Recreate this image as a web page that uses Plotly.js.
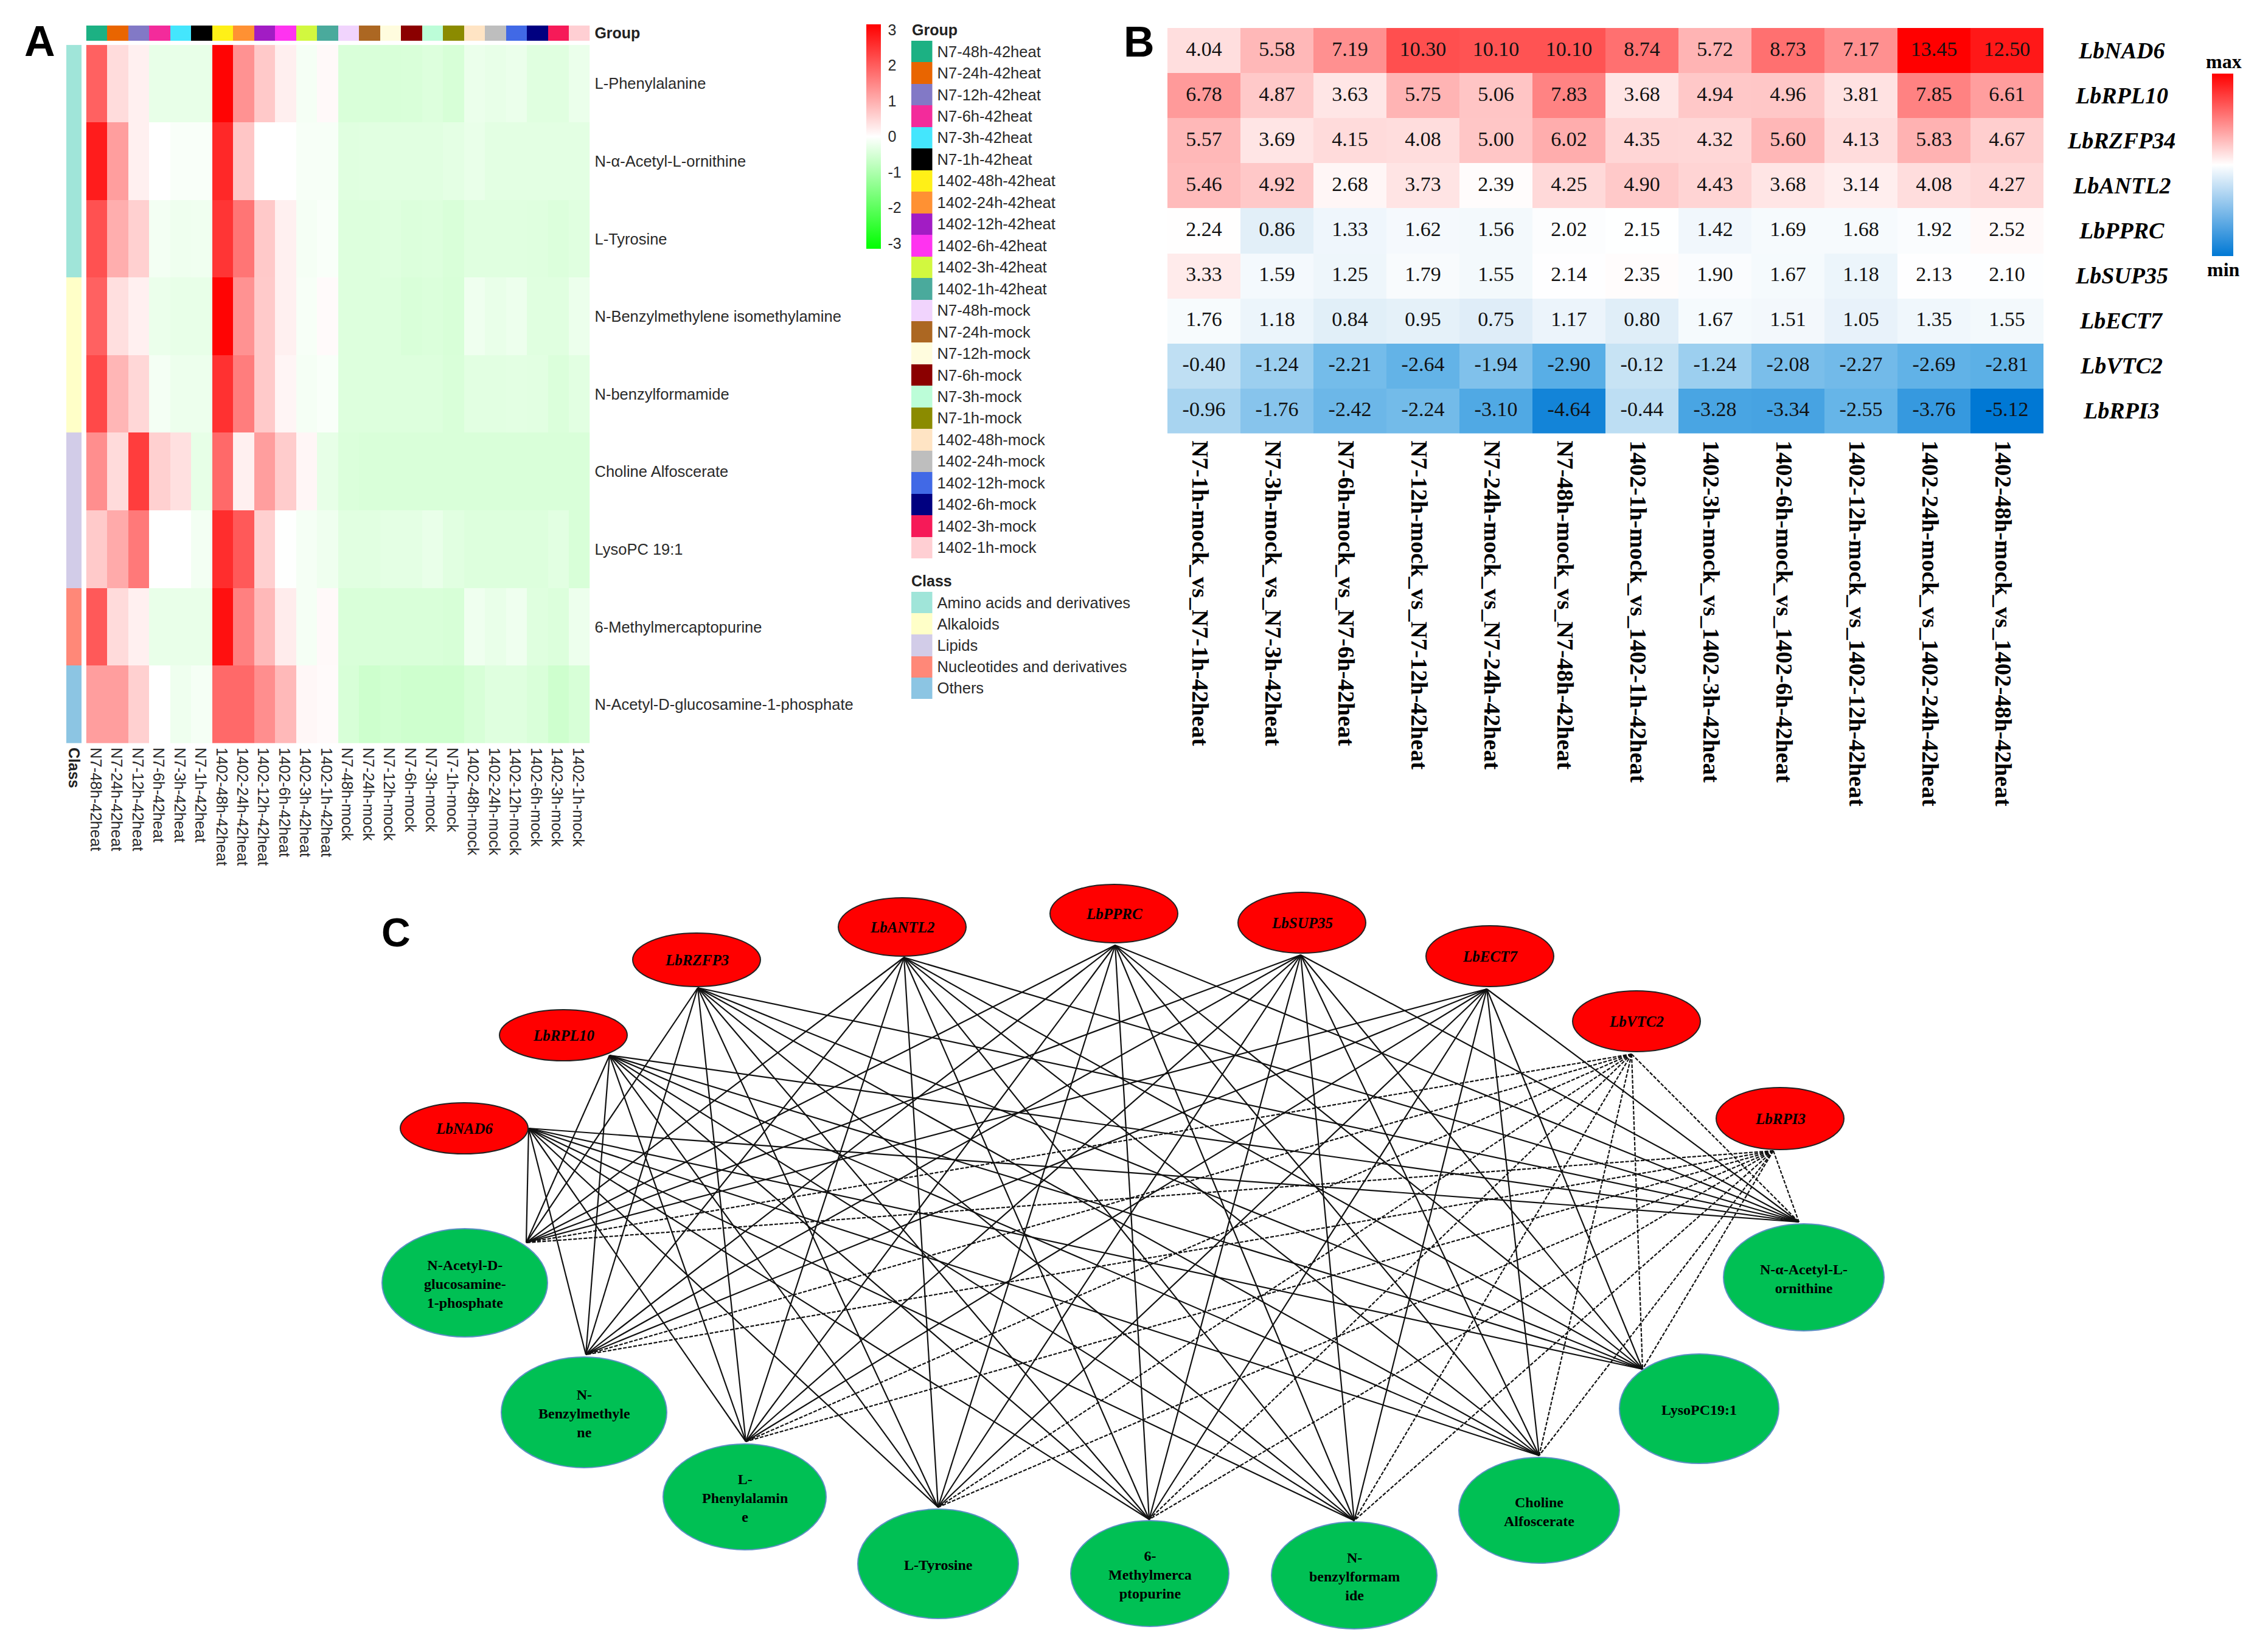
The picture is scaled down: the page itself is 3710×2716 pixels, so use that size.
<!DOCTYPE html>
<html><head><meta charset="utf-8">
<script src="https://cdn.plot.ly/plotly-3.0.1.min.js"></script>
<style>html,body{margin:0;padding:0;background:#fff}</style></head>
<body><div id="c" style="width:3710px;height:2716px"></div>
<script>
// ---------- Panel A data ----------
const sampleLabels = ["N7-48h-42heat","N7-24h-42heat","N7-12h-42heat","N7-6h-42heat","N7-3h-42heat","N7-1h-42heat",
 "1402-48h-42heat","1402-24h-42heat","1402-12h-42heat","1402-6h-42heat","1402-3h-42heat","1402-1h-42heat",
 "N7-48h-mock","N7-24h-mock","N7-12h-mock","N7-6h-mock","N7-3h-mock","N7-1h-mock",
 "1402-48h-mock","1402-24h-mock","1402-12h-mock","1402-6h-mock","1402-3h-mock","1402-1h-mock"];
const metaboliteLabels = ["L-Phenylalanine","N-α-Acetyl-L-ornithine","L-Tyrosine","N-Benzylmethylene isomethylamine",
 "N-benzylformamide","Choline Alfoscerate","LysoPC 19:1","6-Methylmercaptopurine","N-Acetyl-D-glucosamine-1-phosphate"];
const metaboliteValues = [
 [1.95,.43,.18,-.28,-.28,-.28, 3.1,1.35,.67,.2,-.12,.07, -.47,-.47,-.48,-.47,-.42,-.5, -.25,-.28,-.25,-.38,-.38,-.25],
 [2.8,1.2,.18,0,-.08,-.07, 2.65,.7,0,0,-.1,-.1, -.38,-.37,-.37,-.37,-.37,-.33, -.27,-.35,-.35,-.35,-.35,-.35],
 [2.15,1.0,.58,-.15,-.2,-.18, 2.5,1.7,.67,.18,-.12,-.08, -.42,-.42,-.4,-.43,-.42,-.47, -.38,-.38,-.38,-.4,-.43,-.38],
 [1.95,.4,.18,-.25,-.28,-.28, 3.1,1.35,.65,.18,-.1,.06, -.42,-.42,-.42,-.47,-.45,-.48, -.2,-.27,-.22,-.38,-.38,-.24],
 [2.25,.9,.5,-.13,-.22,-.22, 2.55,1.6,.65,.12,-.12,-.08, -.42,-.42,-.42,-.42,-.42,-.47, -.36,-.36,-.34,-.36,-.45,-.36],
 [1.4,.45,2.4,.58,.38,-.3, 1.85,.18,1.2,.63,.11,-.3, -.45,-.47,-.47,-.47,-.47,-.47, -.47,-.47,-.47,-.47,-.47,-.47],
 [.65,1.05,1.65,0,0,-.15, 2.6,2.05,.58,-.01,-.12,-.2, -.37,-.37,-.33,-.33,-.27,-.37, -.42,-.42,-.42,-.42,-.36,-.48],
 [2.05,.45,.18,-.27,-.27,-.27, 2.95,1.57,.87,.23,-.12,.08, -.47,-.47,-.47,-.47,-.47,-.5, -.2,-.27,-.2,-.4,-.43,-.22],
 [1.2,1.2,.58,0,-.2,-.12, 1.85,1.85,1.4,.87,.1,.06, -.5,-.62,-.57,-.6,-.6,-.6, -.5,-.4,-.4,-.47,-.6,-.5]
];
const scaleTicks = [3,2,1,0,-1,-2,-3];
const scaleTickText = ["3","2","1","0","-1","-2","-3"];
const groupColors = ["#1cb183","#e96500","#8279c6","#f32b9b","#44e6fd","#000000","#fff017","#ff9133","#a21cc4","#ff33f0","#d2f83f","#4aaa9c",
 "#f1d4fd","#ac6722","#fffcde","#8b0000","#bcfdd8","#8b8b00","#ffe4c4","#bebebe","#4169e6","#000080","#f61a58","#ffcfd3"];
const classNames = ["Amino acids and derivatives","Alkaloids","Lipids","Nucleotides and derivatives","Others"];
const classColors = ["#a0e5d9","#ffffc8","#d2cce8","#ff8878","#8cc5e3"];
const metaboliteClass = [0,0,0,1,1,2,2,3,4];

// ---------- Panel B data ----------
const geneLabels = ["LbNAD6","LbRPL10","LbRZFP34","LbANTL2","LbPPRC","LbSUP35","LbECT7","LbVTC2","LbRPI3"];
const compareLabels = ["N7-1h-mock_vs_N7-1h-42heat","N7-3h-mock_vs_N7-3h-42heat","N7-6h-mock_vs_N7-6h-42heat","N7-12h-mock_vs_N7-12h-42heat",
 "N7-24h-mock_vs_N7-24h-42heat","N7-48h-mock_vs_N7-48h-42heat","1402-1h-mock_vs_1402-1h-42heat","1402-3h-mock_vs_1402-3h-42heat",
 "1402-6h-mock_vs_1402-6h-42heat","1402-12h-mock_vs_1402-12h-42heat","1402-24h-mock_vs_1402-24h-42heat","1402-48h-mock_vs_1402-48h-42heat"];
const geneValues = [
 [4.04,5.58,7.19,10.30,10.10,10.10,8.74,5.72,8.73,7.17,13.45,12.50],
 [6.78,4.87,3.63,5.75,5.06,7.83,3.68,4.94,4.96,3.81,7.85,6.61],
 [5.57,3.69,4.15,4.08,5.00,6.02,4.35,4.32,5.60,4.13,5.83,4.67],
 [5.46,4.92,2.68,3.73,2.39,4.25,4.90,4.43,3.68,3.14,4.08,4.27],
 [2.24,0.86,1.33,1.62,1.56,2.02,2.15,1.42,1.69,1.68,1.92,2.52],
 [3.33,1.59,1.25,1.79,1.55,2.14,2.35,1.90,1.67,1.18,2.13,2.10],
 [1.76,1.18,0.84,0.95,0.75,1.17,0.80,1.67,1.51,1.05,1.35,1.55],
 [-0.40,-1.24,-2.21,-2.64,-1.94,-2.90,-0.12,-1.24,-2.08,-2.27,-2.69,-2.81],
 [-0.96,-1.76,-2.42,-2.24,-3.10,-4.64,-0.44,-3.28,-3.34,-2.55,-3.76,-5.12]
];

// ---------- Panel C data ----------
const geneNodeLabels = ["LbNAD6","LbRPL10","LbRZFP3","LbANTL2","LbPPRC","LbSUP35","LbECT7","LbVTC2","LbRPI3"];
const geneNodeX = [763,926,1145,1483,1831,2140,2449,2690,2926];
const geneNodeY = [1855,1702,1578,1524,1502,1517,1572,1679,1839];
const geneNodeRY = [42,42,44,48,48,50,50,50,51];
const geneAnchorX = [869,1002,1147,1486,1833,2138,2444,2682,2915];
const geneAnchorY = [1855,1735,1624,1574,1554,1570,1626,1733,1892];
const geneEdgeDashed = [0,0,0,0,0,0,0,1,1];
const metaNodeLabels = ["N-Acetyl-D-<br>glucosamine-<br>1-phosphate","N-<br>Benzylmethyle<br>ne","L-<br>Phenylalamin<br>e","L-Tyrosine",
 "6-<br>Methylmerca<br>ptopurine","N-<br>benzylformam<br>ide","Choline<br>Alfoscerate","LysoPC19:1","N-α-Acetyl-L-<br>ornithine"];
const metaNodeX = [764,960,1224,1542,1890,2226,2530,2793,2965];
const metaNodeY = [2109,2322,2461,2571,2587,2590,2483,2316,2100];
const metaNodeRX = [136,136,134,132,130,136,132,131,132];
const metaNodeRY = [89,91,87,90,87,88,87,90,88];
const metaAnchorX = [865,963,1226,1542,1889,2226,2530,2700,2957];
const metaAnchorY = [2043,2227,2370,2478,2498,2500,2393,2251,2009];

// ---------- helpers ----------
const W = 3710, H = 2716;
const SANS = '"Liberation Sans", Arial, sans-serif';
const SERIF = '"Liberation Serif", "Times New Roman", serif';
const INK = '#2a2a2a';
const CLEAR = 'rgba(0,0,0,0)';
const px = x => x / W, py = y => 1 - y / H;
const domX = (a, b) => [px(a), px(b)];
const domY = (a, b) => [py(b), py(a)];
const stepScale = cols => cols.flatMap((c, i) => [[i / cols.length, c], [(i + 1) / cols.length, c]]);
const hidden = {visible:false, fixedrange:true};
const axisBase = {showgrid:false, zeroline:false, showline:false, ticks:'', type:'category', dtick:1, tick0:0, automargin:false};
const gapTicks = len => ({ticks:'outside', ticklen:len, tickcolor:CLEAR, tickwidth:1});

// Panel A
const heatA = {type:'heatmap', xaxis:'x2', yaxis:'y2', x:sampleLabels, y:metaboliteLabels, z:metaboliteValues,
  zmin:-3.15, zmax:3.15, xgap:0, ygap:0, hoverinfo:'skip',
  colorscale:[[0,'#00ff00'],[0.5,'#ffffff'],[1,'#ff0000']],
  colorbar:{x:px(1424), xanchor:'left', xpad:0, y:py(40), yanchor:'top', ypad:0, thickness:24, thicknessmode:'pixels',
    len:369, lenmode:'pixels', outlinewidth:0, tickmode:'array', tickvals:scaleTicks, ticktext:scaleTickText,
    ticks:'outside', ticklen:7, tickcolor:CLEAR, tickfont:{family:SANS, size:25, color:INK}}};
const groupBar = {type:'heatmap', xaxis:'x3', yaxis:'y3', x:sampleLabels, y:['Group'], z:[sampleLabels.map((_, i) => i)],
  zmin:-0.5, zmax:23.5, showscale:false, colorscale:stepScale(groupColors), hoverinfo:'skip'};
const classBar = {type:'heatmap', xaxis:'x4', yaxis:'y4', x:['Class'], y:metaboliteLabels, z:metaboliteClass.map(c => [c]),
  zmin:-0.5, zmax:4.5, showscale:false, colorscale:stepScale(classColors), hoverinfo:'skip'};
const groupLegend = {type:'heatmap', xaxis:'x5', yaxis:'y5', x:['g'], y:sampleLabels, z:sampleLabels.map((_, i) => [i]),
  zmin:-0.5, zmax:23.5, showscale:false, colorscale:stepScale(groupColors), hoverinfo:'skip'};
const classLegend = {type:'heatmap', xaxis:'x6', yaxis:'y6', x:['c'], y:classNames, z:classNames.map((_, i) => [i]),
  zmin:-0.5, zmax:4.5, showscale:false, colorscale:stepScale(classColors), hoverinfo:'skip'};

// Panel B
const bMin = -5.12, bMax = 13.45, bPos = v => (v - bMin) / (bMax - bMin);
const heatB = {type:'heatmap', xaxis:'x7', yaxis:'y7', x:compareLabels, y:geneLabels, z:geneValues,
  zmin:bMin, zmax:bMax, showscale:false, hoverinfo:'skip',
  colorscale:[[0,'#0078d4'],[bPos(-2.9),'#58aee6'],[bPos(-0.4),'#bfdff3'],[bPos(0.8),'#e0eef8'],[bPos(1.2),'#edf5fb'],[bPos(2.2),'#ffffff'],
    [bPos(4.0),'#ffdfdf'],[bPos(7.19),'#ff9090'],[bPos(10.3),'#ff4f4f'],[1,'#ff0000']]};
const cellText = {type:'scatter', mode:'text', xaxis:'x7', yaxis:'y7', hoverinfo:'skip', showlegend:false,
  x:geneValues.flatMap(r => r.map((_, j) => compareLabels[j])),
  y:geneValues.flatMap((r, i) => r.map(() => geneLabels[i])),
  text:geneValues.flatMap(r => r.map(v => v.toFixed(2))),
  textposition:'middle center', textfont:{family:SERIF, size:34, color:'#111'}};
const barB = {type:'scatter', mode:'markers', xaxis:'x', yaxis:'y', x:[-100], y:[-100], hoverinfo:'skip', showlegend:false,
  marker:{size:1, opacity:0, color:[0], cmin:-1, cmax:1, showscale:true,
    colorscale:[[0,'#0078d4'],[0.5,'#ffffff'],[1,'#ff0000']],
    colorbar:{x:px(3636), xanchor:'left', xpad:0, y:py(121), yanchor:'top', ypad:0, thickness:35, thicknessmode:'pixels',
      len:300, lenmode:'pixels', outlinewidth:0, showticklabels:false, ticks:''}}};

// Panel C edges
const edgeXY = dashedFlag => {
  const xs = [], ys = [];
  geneAnchorX.forEach((gx, i) => {
    if (geneEdgeDashed[i] !== dashedFlag) return;
    metaAnchorX.forEach((mx, j) => { xs.push(gx, mx, null); ys.push(geneAnchorY[i], metaAnchorY[j], null); });
  });
  return [xs, ys];
};
const [sx, sy] = edgeXY(0), [dx, dy] = edgeXY(1);
const solidEdges = {type:'scatter', mode:'lines', x:sx, y:sy, xaxis:'x', yaxis:'y', hoverinfo:'skip', showlegend:false,
  line:{color:'#111', width:2.2}};
const dashedEdges = {type:'scatter', mode:'lines', x:dx, y:dy, xaxis:'x', yaxis:'y', hoverinfo:'skip', showlegend:false,
  line:{color:'#111', width:2.2, dash:'6px,2.5px'}};

const ellipse = (cx, cy, rx, ry, fill, stroke, w) => ({type:'circle', xref:'x', yref:'y', layer:'above',
  x0:cx - rx, x1:cx + rx, y0:cy - ry, y1:cy + ry, fillcolor:fill, line:{color:stroke, width:w}});
const shapes = [
  ...geneNodeX.map((x, i) => ellipse(x, geneNodeY[i], 105, geneNodeRY[i], '#ff0000', '#222', 2)),
  ...metaNodeX.map((x, i) => ellipse(x, metaNodeY[i], metaNodeRX[i], metaNodeRY[i], '#00c054', '#5d8fc4', 2))
];

const note = (text, x, y, font, xanchor='left') => ({xref:'paper', yref:'paper', x:px(x), y:py(y), text, showarrow:false,
  xanchor, yanchor:'middle', font, borderpad:0});
const annotations = [
  note('<b>A</b>', 39, 68, {family:SANS, size:70, color:'#000'}),
  note('<b>B</b>', 1846, 69, {family:SANS, size:70, color:'#000'}),
  note('<b>C</b>', 626, 1533, {family:SANS, size:66, color:'#000'}),
  note('<b>Group</b>', 1498, 49, {family:SANS, size:25, color:'#222'}),
  note('<b>Class</b>', 1497, 955, {family:SANS, size:25, color:'#222'}),
  note('<b>max</b>', 3655, 101, {family:SERIF, size:32, color:'#000'}, 'center'),
  note('<b>min</b>', 3655, 443, {family:SERIF, size:32, color:'#000'}, 'center'),
  ...geneLabels.map((g, i) => ({xref:'paper', yref:'y7', x:px(3487), y:g, text:'<b><i>' + g + '</i></b>', showarrow:false,
    xanchor:'center', yanchor:'middle', font:{family:SERIF, size:38, color:'#000'}})),
  ...geneNodeLabels.map((t, i) => ({xref:'x', yref:'y', x:geneNodeX[i], y:geneNodeY[i], text:'<b><i>' + t + '</i></b>', showarrow:false,
    xanchor:'center', yanchor:'middle', font:{family:SERIF, size:25, color:'#000'}})),
  ...metaNodeLabels.map((t, i) => ({xref:'x', yref:'y', x:metaNodeX[i], y:metaNodeY[i] + 2, text:'<b>' + t + '</b>', showarrow:false,
    xanchor:'center', yanchor:'middle', align:'center', font:{family:SERIF, size:24, color:'#000'}}))
];

const sansTick = {family:SANS, size:25.5, color:INK};
const layout = {
  width:W, height:H, margin:{l:0, r:0, t:0, b:0, pad:0}, paper_bgcolor:'#fff', plot_bgcolor:'rgba(0,0,0,0)',
  showlegend:false, font:{family:SANS}, shapes, annotations,
  // network canvas
  xaxis:{...hidden, domain:[0,1], range:[0,W]},
  yaxis:{...hidden, domain:[0,1], range:[H,0]},
  // A main heatmap
  xaxis2:{...axisBase, ...gapTicks(1), ticklabelshift:-2, domain:domX(141.6,969.4), anchor:'y2', side:'bottom', tickangle:90, tickfont:sansTick},
  yaxis2:{...axisBase, ...gapTicks(2), domain:domY(73.7,1222), anchor:'x2', side:'right', autorange:'reversed', tickfont:sansTick},
  // A group bar
  xaxis3:{...axisBase, domain:domX(141.6,969.4), anchor:'y3', showticklabels:false},
  yaxis3:{...axisBase, ...gapTicks(2), domain:domY(42,67), anchor:'x3', side:'right', tickfont:{family:SANS, size:25, weight:'bold', color:'#222'}},
  // A class bar
  xaxis4:{...axisBase, ...gapTicks(1), domain:domX(109,134), anchor:'y4', side:'bottom', tickangle:90, tickfont:{family:SANS, size:25, weight:'bold', color:'#222'}},
  yaxis4:{...axisBase, domain:domY(73.7,1222), anchor:'x4', autorange:'reversed', showticklabels:false},
  // A group legend
  xaxis5:{...axisBase, domain:domX(1498,1532.5), anchor:'y5', showticklabels:false},
  yaxis5:{...axisBase, ...gapTicks(2), domain:domY(67,918), anchor:'x5', side:'right', autorange:'reversed', tickfont:sansTick},
  // A class legend
  xaxis6:{...axisBase, domain:domX(1498,1532.5), anchor:'y6', showticklabels:false},
  yaxis6:{...axisBase, ...gapTicks(2), domain:domY(973,1149), anchor:'x6', side:'right', autorange:'reversed', tickfont:sansTick},
  // B heatmap
  xaxis7:{...axisBase, ...gapTicks(3), ticklabelshift:-6, domain:domX(1919,3359), anchor:'y7', side:'bottom', tickangle:90,
    range:[-0.5, compareLabels.length - 0.5], tickfont:{family:SERIF, size:38.8, weight:'bold', color:'#000'}},
  yaxis7:{...axisBase, domain:domY(46,712.5), anchor:'x7', range:[geneLabels.length - 0.5, -0.5], showticklabels:false}
};

Plotly.newPlot('c', [solidEdges, dashedEdges, barB, heatA, groupBar, classBar, groupLegend, classLegend, heatB, cellText], layout, {staticPlot:true, displayModeBar:false});
</script></body></html>
